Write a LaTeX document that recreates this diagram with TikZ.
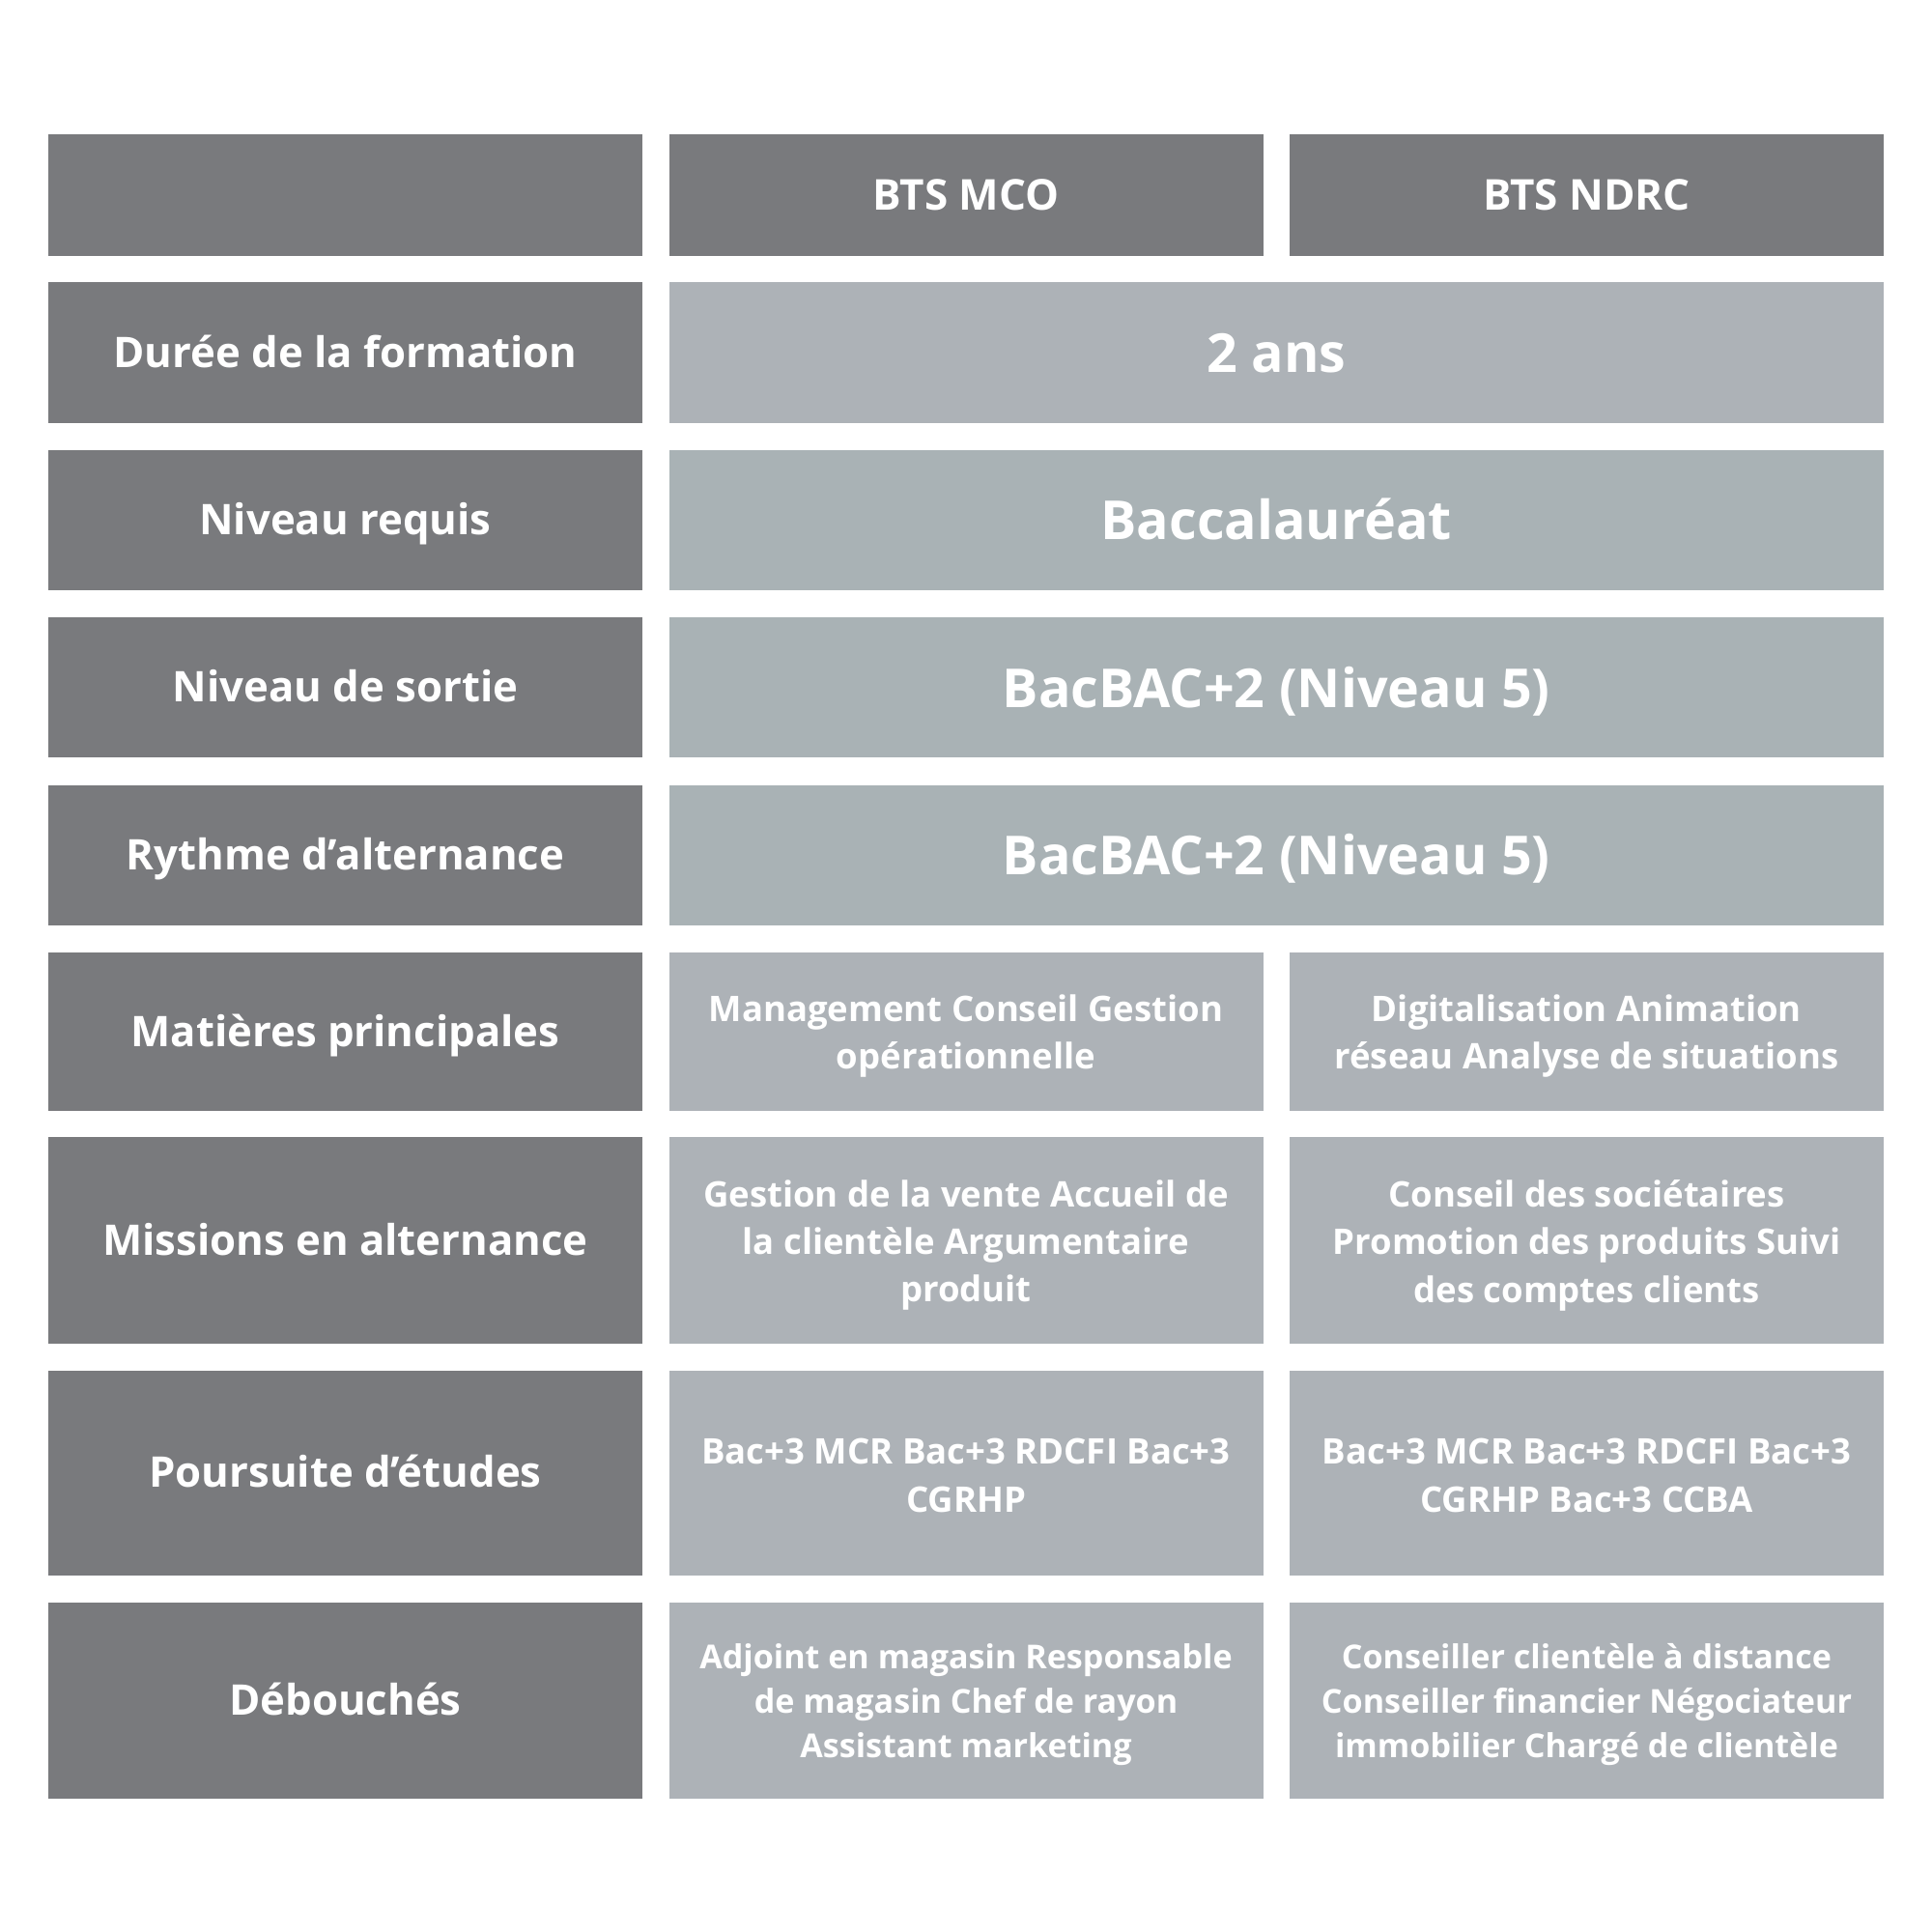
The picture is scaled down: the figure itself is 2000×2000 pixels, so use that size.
\documentclass[tikz,border=0pt]{standalone}
\usepackage{fontspec}
\setmainfont{Open Sans}
\definecolor{darkcell}{HTML}{797A7D}
\definecolor{lightA}{HTML}{ADB2B7}
\definecolor{lightB}{HTML}{A9B2B5}
\tikzset{
  cellbase/.style={inner sep=0pt, outer sep=0pt, text=white, align=center, font=\bfseries},
  darkbox/.style={cellbase, fill=darkcell},
  lightbox/.style={cellbase, fill=lightA},
  lightboxb/.style={cellbase, fill=lightB},
  hdrtxt/.style={text height=32.5pt, text depth=0pt, font=\fontsize{44}{52}\selectfont\bfseries},
  lbltxt/.style={text height=30.5pt, text depth=0pt, font=\fontsize{43.7}{52}\selectfont\bfseries},
  bigtxt/.style={text height=41pt, text depth=0pt, font=\fontsize{55.6}{64}\selectfont\bfseries},
  smalltxt/.style={cellbase, font=\fontsize{36.5}{49.5}\selectfont\bfseries},
  smalltxtb/.style={cellbase, font=\fontsize{34.1}{46}\selectfont\bfseries},
}
\newcommand\cellnode[7]{\node[#1, minimum width={#4-#3}, minimum height={#6-#5}] (#2) at ({(#3+#4)/2},{(#5+#6)/2}) {#7};}
\begin{document}
\begin{tikzpicture}[x=1pt,y=-1pt]
\fill[white] (0,0) rectangle (2000,2000);
\useasboundingbox (0,0) rectangle (2000,2000);
% header
\cellnode{darkbox}{h0}{50}{665}{138.5}{264.5}{}
\cellnode{darkbox,hdrtxt}{h1}{692.5}{1307.5}{138.5}{264.5}{BTS MCO}
\cellnode{darkbox,hdrtxt}{h2}{1335}{1950}{138.5}{264.5}{BTS NDRC}
% row 1
\cellnode{darkbox,lbltxt}{l1}{50}{665}{292.2}{437.6}{Durée de la formation}
\cellnode{lightbox,bigtxt}{v1}{692.5}{1950}{292.2}{437.6}{2 ans}
% row 2
\cellnode{darkbox,lbltxt}{l2}{50}{665}{465.7}{611}{Niveau requis}
\cellnode{lightboxb,bigtxt}{v2}{692.5}{1950}{465.7}{611}{Baccalauréat}
% row 3
\cellnode{darkbox,lbltxt}{l3}{50}{665}{639}{784.4}{Niveau de sortie}
\cellnode{lightboxb,bigtxt}{v3}{692.5}{1950}{639}{784.4}{BacBAC+2 (Niveau 5)}
% row 4
\cellnode{darkbox,lbltxt}{l4}{50}{665}{812.5}{957.9}{Rythme d’alternance}
\cellnode{lightboxb,bigtxt}{v4}{692.5}{1950}{812.5}{957.9}{BacBAC+2 (Niveau 5)}
% row 5
\cellnode{darkbox,lbltxt}{l5}{50}{665}{986}{1149.5}{Matières principales}
\cellnode{lightbox}{a5}{692.5}{1307.5}{986}{1149.5}{}
\cellnode{lightbox}{b5}{1335}{1950}{986}{1149.5}{}
\node[smalltxt] (a5t) at ([yshift=-5pt]a5.center) {Management Conseil Gestion\\opérationnelle};
\node[smalltxt] (b5t) at ([yshift=-5pt]b5.center) {Digitalisation Animation\\réseau Analyse de situations};
% row 6
\cellnode{darkbox,lbltxt}{l6}{50}{665}{1177.4}{1390.6}{Missions en alternance}
\cellnode{lightbox}{a6}{692.5}{1307.5}{1177.4}{1390.6}{}
\cellnode{lightbox}{b6}{1335}{1950}{1177.4}{1390.6}{}
\node[smalltxt] (a6t) at ([yshift=-5pt]a6.center) {Gestion de la vente Accueil de\\la clientèle Argumentaire\\produit};
\node[smalltxt] (b6t) at ([yshift=-5pt]b6.center) {Conseil des sociétaires\\Promotion des produits Suivi\\des comptes clients};
% row 7
\cellnode{darkbox,lbltxt}{l7}{50}{665}{1418.5}{1630.8}{Poursuite d’études}
\cellnode{lightbox}{a7}{692.5}{1307.5}{1418.5}{1630.8}{}
\cellnode{lightbox}{b7}{1335}{1950}{1418.5}{1630.8}{}
\node[smalltxt] (a7t) at ([yshift=-3pt]a7.center) {Bac+3 MCR Bac+3 RDCFI Bac+3\\CGRHP};
\node[smalltxt] (b7t) at ([yshift=-3pt]b7.center) {Bac+3 MCR Bac+3 RDCFI Bac+3\\CGRHP Bac+3 CCBA};
% row 8
\cellnode{darkbox,lbltxt}{l8}{50}{665}{1658.8}{1861.5}{Débouchés}
\cellnode{lightbox}{a8}{692.5}{1307.5}{1658.8}{1861.5}{}
\cellnode{lightbox}{b8}{1335}{1950}{1658.8}{1861.5}{}
\node[smalltxtb] (a8t) at ([yshift=-4pt]a8.center) {Adjoint en magasin Responsable\\de magasin Chef de rayon\\Assistant marketing};
\node[smalltxtb] (b8t) at ([yshift=-4pt]b8.center) {Conseiller clientèle à distance\\Conseiller financier Négociateur\\immobilier Chargé de clientèle};
\end{tikzpicture}
\end{document}
